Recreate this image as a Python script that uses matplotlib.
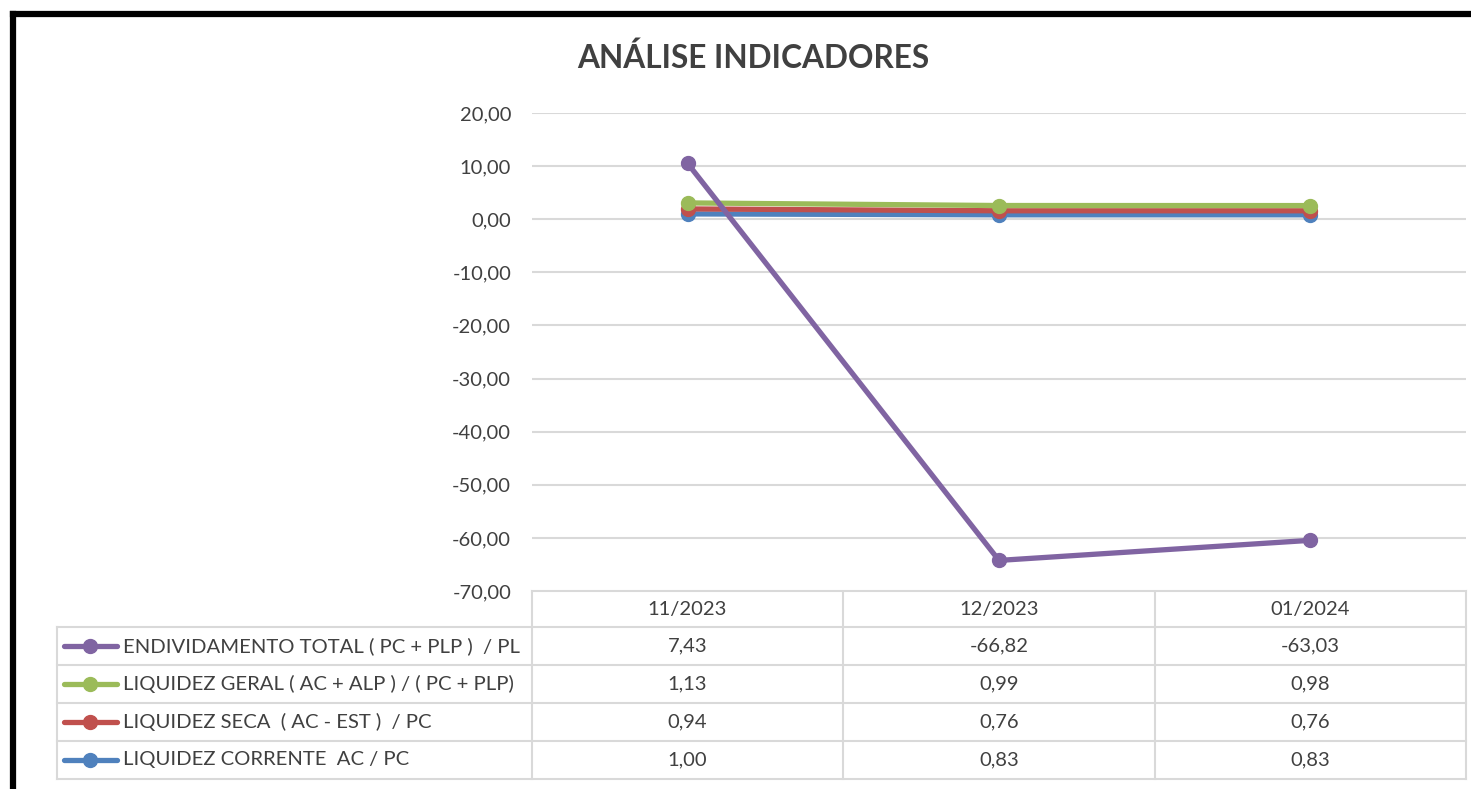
import numpy as np
import matplotlib.pyplot as plt
from matplotlib.lines import Line2D

plt.rcParams['font.family'] = ['Lato', 'DejaVu Sans']

# Dados
periodos = ["11/2023", "12/2023", "01/2024"]
corrente = [1.00, 0.83, 0.83]
seca = [0.94, 0.76, 0.76]
geral = [1.13, 0.99, 0.98]
endividamento = [7.43, -66.82, -63.03]

nomes = ["LIQUIDEZ CORRENTE  AC / PC",
         "LIQUIDEZ SECA  ( AC - EST )  / PC",
         "LIQUIDEZ GERAL ( AC + ALP ) / ( PC + PLP)",
         "ENDIVIDAMENTO TOTAL ( PC + PLP )  / PL"]
cores = ["#4F81BD", "#C0504D", "#9BBB59", "#8064A2"]
y_ticks = [20, 10, 0, -10, -20, -30, -40, -50, -60, -70]

W, H = 1471, 789
fig = plt.figure(figsize=(W / 100, H / 100), dpi=100)
texto = "#404040"
grade = "#D9D9D9"


def fx(px):
    return px / W


def fy(py):
    return 1 - py / H


# Eixo do gráfico (linhas empilhadas, como no Excel)
ax = fig.add_axes([fx(532), fy(591), fx(1466) - fx(532), fy(113) - fy(591)])
serie = np.array([corrente, seca, geral, endividamento])
empilhado = np.cumsum(serie, axis=0)
x = np.arange(len(periodos))
for i in range(len(nomes)):
    ax.plot(x, empilhado[i], color=cores[i], lw=3.8, marker="o", ms=10,
            solid_capstyle="round", zorder=3 + i)

ax.set_xlim(-0.5, 2.5)
ax.set_ylim(-70, 20)
ax.set_yticks(y_ticks)
ax.set_yticklabels([f"{v:.2f}".replace(".", ",") for v in y_ticks],
                   fontsize=14.5, color=texto)
ax.tick_params(axis="y", length=0, pad=15)
ax.set_xticks([])
for s in ax.spines.values():
    s.set_visible(False)
ax.grid(axis="y", color=grade, lw=1.5)
ax.set_axisbelow(True)

# Camada de sobreposição em pixels para tabela, título e borda
ov = fig.add_axes([0, 0, 1, 1], zorder=-1)
ov.set_xlim(0, W)
ov.set_ylim(H, 0)
ov.axis("off")

ov.text(753, 58, "ANÁLISE INDICADORES", ha="center", va="center",
        fontsize=22.8, fontweight="bold", color=texto)

# borda preta
ov.plot([13, 13], [H + 5, 14], color="black", lw=4.5, solid_capstyle="projecting")
ov.plot([13, W + 5], [14, 14], color="black", lw=4.5, solid_capstyle="projecting")

# tabela de dados
linhas_y = [591, 627, 665, 703, 741, 779]
colunas_x = [532, 843, 1155, 1466]
ov.plot([532, 1466], [591, 591], color=grade, lw=1.5)
for yy in linhas_y[1:]:
    ov.plot([57, 1466], [yy, yy], color=grade, lw=1.5)
ov.plot([57, 57], [627, 779], color=grade, lw=1.5)
for xx in colunas_x:
    ov.plot([xx, xx], [591, 779], color=grade, lw=1.5)

for j, p in enumerate(periodos):
    cx = (colunas_x[j] + colunas_x[j + 1]) / 2
    ov.text(cx, 609, p, ha="center", va="center", fontsize=14.5, color=texto)

ordem = [3, 2, 1, 0]
valores = [corrente, seca, geral, endividamento]
for r, i in enumerate(ordem):
    cy = (linhas_y[r + 1] + linhas_y[r + 2]) / 2
    ov.add_line(Line2D([64, 117], [cy, cy], color=cores[i], lw=3.8,
                       solid_capstyle="round"))
    ov.plot(90, cy, "o", color=cores[i], ms=10)
    ov.text(123, cy, nomes[i], ha="left", va="center", fontsize=14.6, color=texto)
    for j in range(len(periodos)):
        cx = (colunas_x[j] + colunas_x[j + 1]) / 2
        ov.text(cx, cy, f"{valores[i][j]:.2f}".replace(".", ","), ha="center",
                va="center", fontsize=14.5, color=texto)

fig.savefig("out.png", dpi=100)
